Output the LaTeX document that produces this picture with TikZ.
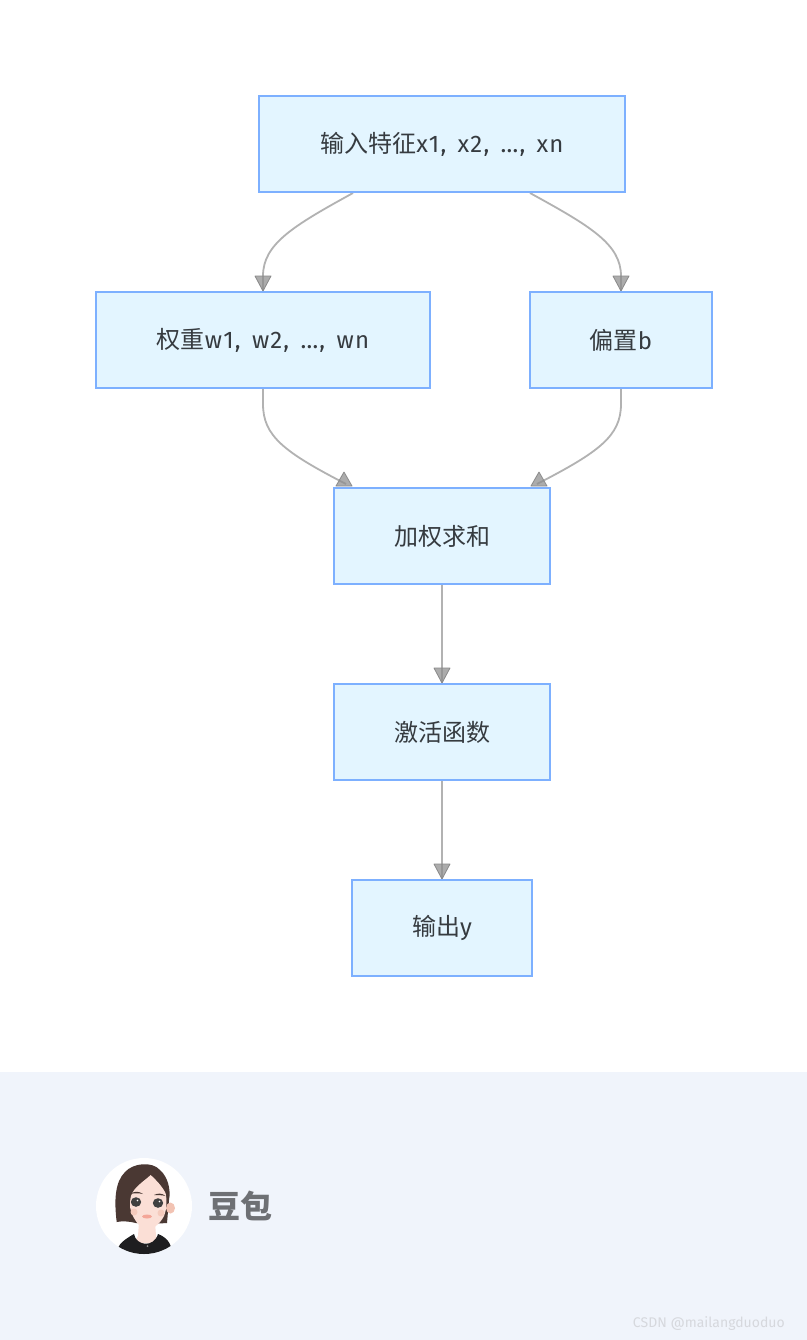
\documentclass[tikz,border=0pt]{standalone}
\usepackage{fontspec}
\setmainfont{Fira Sans}
\newfontfamily\cjk{Noto Sans CJK SC}
\newfontfamily\spaced[LetterSpace=5,WordSpace=1.5]{Fira Sans}
\usetikzlibrary{calc,backgrounds}
\definecolor{boxfill}{HTML}{E3F5FF}
\definecolor{boxline}{HTML}{7DB0FF}
\definecolor{boxtext}{HTML}{363B40}
\definecolor{edgeline}{HTML}{B2B2B2}
\definecolor{tipfill}{HTML}{8C8C8C}
\definecolor{tipline}{HTML}{8A8A8A}
\definecolor{footer}{HTML}{F0F4FB}
\definecolor{hair}{HTML}{4A3833}
\definecolor{skin}{HTML}{FBDFD6}
\definecolor{skindark}{HTML}{F2C3B3}
\definecolor{shirt}{HTML}{1E1E20}
\definecolor{logotext}{HTML}{6E7074}
\definecolor{marktext}{HTML}{D6D8DD}
\tikzset{
  x=0.75pt,y=-0.75pt,
  flowbox/.style={draw=boxline,fill=boxfill,line width=1.5pt,minimum height=72pt,inner sep=0pt,
    text=boxtext,font=\fontsize{18}{22}\selectfont},
  flowedge/.style={draw=edgeline,line width=1.35pt},
  tiphead/.style={fill=tipfill,fill opacity=.72,draw=tipline,line width=.6pt,line join=round},
}
\newcommand{\tipdown}[1]{\path[tiphead] ($#1+(-8,-15)$) -- ($#1+(8,-15)$) -- #1 -- cycle;}
\newcommand{\tipup}[1]{\path[tiphead] ($#1+(-8,14)$) -- ($#1+(8,14)$) -- #1 -- cycle;}
\begin{document}
\begin{tikzpicture}
\useasboundingbox (0,0) rectangle (807,1340);
\node[flowbox,minimum width=274.5pt] (in) at (442,144) {{\cjk 输入特征}{\spaced x1, x2, …, xn}};
\node[flowbox,minimum width=250.5pt] (w) at (263,340) {{\cjk 权重}{\spaced w1, w2, …, wn}};
\node[flowbox,minimum width=136.5pt] (b) at (621,340) {{\cjk 偏置}b};
\node[flowbox,minimum width=162pt] (sum) at (442,536) {\cjk 加权求和};
\node[flowbox,minimum width=162pt] (act) at (442,732) {\cjk 激活函数};
\node[flowbox,minimum width=135pt] (out) at (442,928) {{\cjk 输出}y};
\begin{scope}[on background layer]
  \fill[white] (0,0) rectangle (807,1340);
  \fill[footer] (0,1072) rectangle (807,1340);
  % connectors
  \coordinate (inL) at ($(in.south)+(-89,0)$);
  \coordinate (inR) at ($(in.south)+(88,0)$);
  \coordinate (sumL) at ($(sum.north)+(-98,-2)$);
  \coordinate (sumR) at ($(sum.north)+(97,-2)$);
  \coordinate (sumLa) at ($(sum.north)+(-98,-15)$);
  \coordinate (sumRa) at ($(sum.north)+(97,-15)$);
  \draw[flowedge] (inL) .. controls ($(inL)+(-60,33)$) and ($(w.north)+(0,-47)$) .. ($(w.north)+(0,-15)$) -- (w.north);
  \draw[flowedge] (inR) .. controls ($(inR)+(60,33)$) and ($(b.north)+(0,-47)$) .. ($(b.north)+(0,-15)$) -- (b.north);
  \draw[flowedge] (w.south) -- ($(w.south)+(0,15)$) .. controls ($(w.south)+(0,47)$) and ($(sumL)+(-60,-33)$) .. ($(sumL)+(2,-1)$);
  \draw[flowedge] (b.south) -- ($(b.south)+(0,15)$) .. controls ($(b.south)+(0,47)$) and ($(sumR)+(60,-33)$) .. ($(sumR)+(-2,-1)$);
  \draw[flowedge] (sum.south) -- (act.north);
  \draw[flowedge] (act.south) -- (out.north);
  \tipdown{(w.north)}
  \tipdown{(b.north)}
  \tipdown{(act.north)}
  \tipdown{(out.north)}
  \tipup{(sumLa)}
  \tipup{(sumRa)}
\end{scope}
% avatar
\begin{scope}
  \fill[white] (144,1206) circle (48);
  \clip (144,1206) circle (48);
  % back hair
  \fill[hair] (116.7,1222) .. controls (114,1200) and (115,1182) .. (125,1172)
     .. controls (133,1163) and (152,1161) .. (160,1170)
     .. controls (168,1177) and (171,1190) .. (169,1200)
     -- (167,1223) -- (150,1224) -- (135.7,1223) .. controls (128,1221) and (122,1221) .. (116.7,1222) -- cycle;
  % neck
  \fill[skin] (139,1222) -- (155,1222) -- (156,1236) -- (160,1243) -- (134,1243) -- (138,1236) -- cycle;
  % shirt
  \fill[shirt] (118,1254) .. controls (117,1246) and (120,1242) .. (134,1234)
     .. controls (136,1246) and (154,1248) .. (158,1234)
     .. controls (166,1237) and (172,1243) .. (172,1254) -- (160,1262) -- (125,1262) -- cycle;
  % ear
  \fill[skindark] (170.5,1208) ellipse (4.5 and 5.5);
  % face
  \fill[skin] (150.7,1175) .. controls (143,1182) and (134,1187) .. (131,1196)
     .. controls (129,1204) and (130,1212) .. (134,1218)
     .. controls (138,1225) and (143,1230) .. (147,1230)
     .. controls (152,1230) and (160,1224) .. (164,1216)
     .. controls (167,1209) and (167,1199) .. (165.5,1193)
     .. controls (162,1186) and (156,1180) .. (150.7,1175) -- cycle;
  % brows
  \fill[hair] (130.5,1194) .. controls (134,1191) and (139,1191) .. (143,1194)
     .. controls (139,1193) and (134,1193) .. (130.5,1194) -- cycle;
  \fill[hair] (154,1195) .. controls (158,1193) and (162,1193) .. (165.5,1196)
     .. controls (162,1195) and (158,1195) .. (154,1195) -- cycle;
  % eyes
  \fill[black!75] (136,1202) ellipse (5.2 and 4.8);
  \fill[black!75] (158,1203) ellipse (5.2 and 4.8);
  \fill[white] (137.5,1200.5) circle (.9);
  \fill[white] (159.5,1201.5) circle (.9);
  % cheeks, nose, lips
  \fill[skindark!70!skin] (134,1212) circle (3.5);
  \fill[skindark!70!skin] (161,1213) circle (3.5);
  \fill[skindark!85!red] (147,1216.5) ellipse (5 and 2);
  \fill[black!45] (147.5,1246) circle (1);
\end{scope}
\node[font=\cjk\bfseries\fontsize{24}{28}\selectfont,text=logotext,anchor=west,inner sep=0pt] (logo) at (208,1206) {豆包};
\node[font=\fontsize{10.5}{12}\selectfont,text=marktext,anchor=east,inner sep=0pt] (mark) at (785,1324) {CSDN @mailangduoduo};
\end{tikzpicture}
\end{document}
